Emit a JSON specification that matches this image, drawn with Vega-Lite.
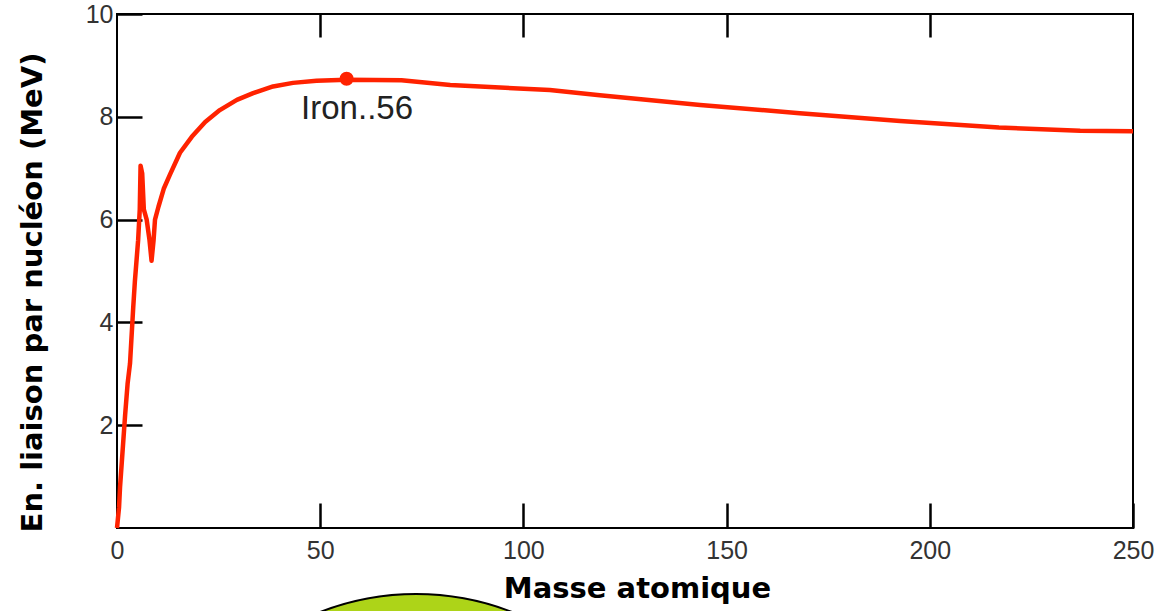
{
  "$schema": "https://vega.github.io/schema/vega-lite/v6.json",
  "width": 1016,
  "height": 514,
  "autosize": "none",
  "padding": {"left": 117, "top": 14, "right": 38, "bottom": 83},
  "background": "white",
  "config": {
    "view": {"stroke": "black", "strokeWidth": 2},
    "axis": {"grid": false, "domain": false, "tickColor": "black", "tickWidth": 2.5, "labelFlush": false, "labelFont": "Liberation Sans", "labelFontSize": 25, "labelColor": "#333333", "titleFont": "DejaVu Sans", "titleFontWeight": "bold", "titleFontSize": 29, "titleColor": "black"}
  },
  "datasets": {
    "curve": [
      {"A": 0, "E": 0}, {"A": 0.5, "E": 0.4}, {"A": 0.75, "E": 0.8}, {"A": 1.2, "E": 1.3},
      {"A": 2, "E": 2.2}, {"A": 2.6, "E": 2.8}, {"A": 3.2, "E": 3.2}, {"A": 4, "E": 4.3},
      {"A": 4.4, "E": 4.8}, {"A": 5.2, "E": 5.6}, {"A": 5.6, "E": 6.2}, {"A": 5.8, "E": 7.05},
      {"A": 6.2, "E": 6.9}, {"A": 6.6, "E": 6.2}, {"A": 7.3, "E": 6.0}, {"A": 8.0, "E": 5.6},
      {"A": 8.5, "E": 5.2}, {"A": 9.0, "E": 5.6}, {"A": 9.35, "E": 6.0}, {"A": 10.2, "E": 6.25},
      {"A": 11.5, "E": 6.6}, {"A": 13, "E": 6.87}, {"A": 15.5, "E": 7.3}, {"A": 18.4, "E": 7.61},
      {"A": 21.7, "E": 7.9}, {"A": 25.3, "E": 8.13}, {"A": 29.5, "E": 8.33}, {"A": 33.5, "E": 8.46},
      {"A": 38.4, "E": 8.59}, {"A": 43.3, "E": 8.66}, {"A": 49.1, "E": 8.7}, {"A": 56.5, "E": 8.72},
      {"A": 70, "E": 8.71}, {"A": 82, "E": 8.62}, {"A": 106.5, "E": 8.52}, {"A": 118.8, "E": 8.42},
      {"A": 143.5, "E": 8.23}, {"A": 168, "E": 8.07}, {"A": 192.7, "E": 7.92}, {"A": 217, "E": 7.79},
      {"A": 237, "E": 7.73}, {"A": 250, "E": 7.72}
    ],
    "iron": [{"A": 56.5, "E": 8.74, "label": "Iron..56", "LA": 45.3, "LE": 8.15}],
    "deco": [{"A": 73.6, "E": -6.44}]
  },
  "resolve": {"axis": {"x": "independent", "y": "independent"}},
  "layer": [
    {
      "data": {"name": "deco"},
      "mark": {"type": "point", "shape": "circle", "filled": true, "fill": "#add418", "stroke": "black", "strokeWidth": 2, "size": 280900, "opacity": 1},
      "encoding": {
        "x": {"field": "A", "type": "quantitative", "scale": {"domain": [0, 250], "nice": false},
          "axis": {"orient": "top", "values": [50, 100, 150, 200], "labels": false, "tickSize": -23, "title": null}},
        "y": {"field": "E", "type": "quantitative", "scale": {"domain": [0, 10], "nice": false},
          "axis": {"orient": "right", "ticks": false, "labels": false, "title": null}}
      }
    },
    {
      "data": {"name": "curve"},
      "mark": {"type": "line", "color": "#ff2200", "strokeWidth": 4.5, "strokeJoin": "round"},
      "encoding": {
        "x": {"field": "A", "type": "quantitative", "scale": {"domain": [0, 250], "nice": false},
          "axis": {"orient": "bottom", "values": [0, 50, 100, 150, 200, 250], "tickSize": -25, "labelPadding": 35, "title": "Masse atomique", "titleX": 520, "titleY": 60, "titleBaseline": "middle", "titleAnchor": "start", "titleAlign": "center"}},
        "y": {"field": "E", "type": "quantitative", "scale": {"domain": [0, 10], "nice": false},
          "axis": {"orient": "left", "values": [2, 4, 6, 8, 10], "tickSize": -25, "labelPadding": 29, "title": "En. liaison par nucléon (MeV)", "titleX": -85, "titleY": 278, "titleBaseline": "middle", "titleAlign": "center", "titleAngle": -90}}
      }
    },
    {
      "data": {"name": "iron"},
      "mark": {"type": "point", "shape": "circle", "filled": true, "color": "#ff2200", "size": 200, "opacity": 1},
      "encoding": {
        "x": {"field": "A", "type": "quantitative", "axis": null},
        "y": {"field": "E", "type": "quantitative", "axis": null}
      }
    },
    {
      "data": {"name": "iron"},
      "mark": {"type": "text", "align": "left", "baseline": "middle", "font": "Liberation Sans", "fontSize": 33, "color": "#222222"},
      "encoding": {
        "x": {"field": "LA", "type": "quantitative", "axis": null},
        "y": {"field": "LE", "type": "quantitative", "axis": null},
        "text": {"field": "label"}
      }
    }
  ]
}
